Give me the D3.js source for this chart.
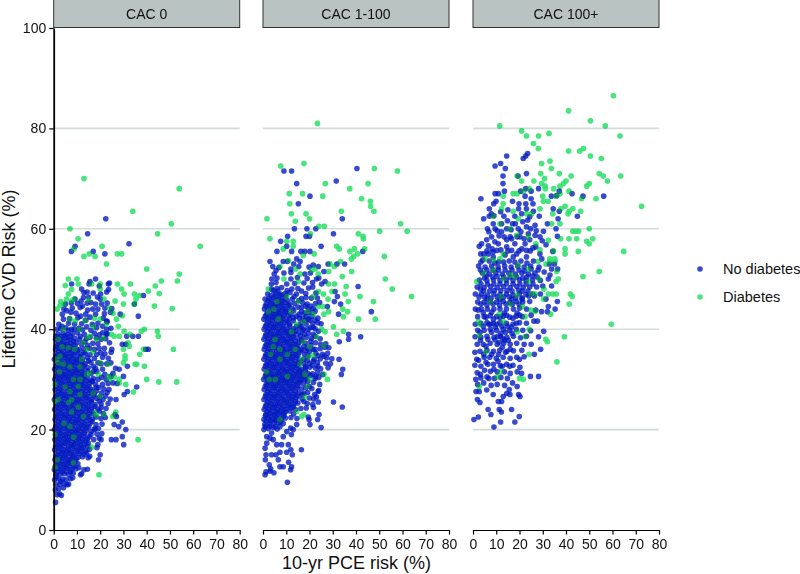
<!DOCTYPE html>
<html><head><meta charset="utf-8">
<script src="https://cdn.jsdelivr.net/npm/d3@7/dist/d3.min.js"></script>
<style>html,body{margin:0;padding:0;background:#fff}svg{display:block}text{font-family:"Liberation Sans",Arial,sans-serif;fill:#111}</style>
</head><body><svg id="c" width="800" height="574"></svg>
<script>
const panelNames=["CAC 0","CAC 1-100","CAC 100+"];
const seriesNames=["No diabetes","Diabetes"];
const xTicks=[0,10,20,30,40,50,60,70,80];
const yTicks=[0,20,40,60,80,100];
const gridValues=[20,40,60,80];

const cac0None=[[22.4,62],[14.6,59],[32.4,57],[9.2,56.5],[7.6,55.5],[17,55.5],[22,55],[15.6,49.5],[18,50],[38.6,46.7],[34.7,45],[36.4,42.6],[31.4,38.6],[34,38.6],[36.4,38.6],[40.7,36],[39.6,36],[29.5,37],[31,37],[31.7,32.6],[28.2,32],[30,30.6],[35.7,28.5],[31.7,27.6],[30.3,27],[26.8,26],[26.4,23],[27,22.6],[26,21],[28,20.6],[29.5,21.5],[31,20],[24.8,18],[26.8,18],[29.5,18.6],[30.1,17],
[0.8,5.5],[1.5,7],[2.5,7.2],[3.3,6.9],[0.7,8],[2.2,8.2],[4.2,8.4],[1,9],[2.6,9.1],[4.5,9.2],[5.8,9],[6.4,9.1],[0.4,10],[2,10.2],[3.8,10.1],[5.3,10],[7.2,10.2],[8.2,10.4],[0.9,11],[2.8,11.1],[4.6,11.2],[6.5,11],[8.4,11.3],[11.5,11],[12,11.2],[0.3,12],[1.9,12.2],[3.6,12.1],[5.6,12.3],[7.5,12],[9.5,12.2],[13,12],[14.5,12.1],[1.1,13],[3,13.2],[4.8,13.1],[6.8,13.3],[8.6,13],[10.4,13.2],[0.5,14],[2.3,14.1],[4,14.3],[6,14],[7.8,14.2],[9.7,14.1],[14.8,14.4],[15.5,14.7],[19.3,14],[20,15],[1.4,15],[3.3,15.2],[5.2,15.1],[7.1,15.3],[9,15],[11,15.2],[13.2,15.1],[14.2,15.4],[0.4,16],[2.2,16.2],[4.1,16],[6.1,16.1],[8.2,16.3],[10.2,16],[12.1,16.2],[15.4,16.1],[18.6,16.4],[1.3,17],[3.2,17.1],[5.1,17.3],[7.3,17],[9.1,17.2],[11.2,17],[13.3,17.1],[14.9,17.3],[19,17],[0.5,18],[2.4,18.1],[4.4,18.2],[6.4,18],[8.3,18.3],[10.5,18.1],[12.4,18],[14.5,18.2],[17.2,18],[19.6,18.3],[20.4,18],[1.2,19],[3.1,19.2],[5.3,19],[7.2,19.1],[9.3,19.3],[11.3,19],[13.2,19.2],[16,19],[18.6,19.1],[20.7,19.2],[0.3,20],[2.2,20.1],[4.2,20.3],[6.2,20],[8.2,20.2],[10.3,20],[12.4,20.1],[14.2,20.3],[17.4,20],[19.2,20.2],[1.4,21],[3.4,21.2],[5.3,21],[7.4,21.1],[9.4,21.3],[11.4,21],[13.4,21.1],[15.6,21.2],[18.2,21],[20.8,21.1],[0.6,22],[2.6,22.1],[4.6,22.3],[6.6,22],[8.6,22.2],[10.6,22],[12.6,22.1],[14.7,22.3],[16.6,22],[20.3,22.2],[1.2,23],[3.2,23.2],[5.2,23],[7.2,23.1],[9.2,23.3],[11.2,23],[13.2,23.1],[15.3,23.3],[17.2,23.1],[21.3,23.2],[0.4,24],[2.4,24.1],[4.4,24.3],[6.4,24],[8.4,24.2],[10.4,24.1],[12.4,24],[14.4,24.2],[16.4,24.3],[19,24.1],[22.5,24.2],[1.6,25],[3.6,25.2],[5.6,25],[7.6,25.1],[9.6,25.3],[11.6,25],[13.6,25.1],[15.6,25.3],[17.8,25],[20.4,25.1],[23.4,25.2],[0.3,26],[2.2,26.1],[4.2,26.3],[6.2,26],[8.2,26.2],[10.2,26],[12.2,26.1],[14.2,26.3],[16.4,26],[18.6,26.2],[21.2,26],[24.3,26.1],[1.3,27],[3.3,27.2],[5.3,27],[7.3,27.1],[9.3,27.3],[11.3,27],[13.3,27.1],[15.3,27.3],[17.5,27.1],[20.6,27.3],[23,27.4],[0.6,28],[2.6,28.1],[4.6,28.3],[6.6,28],[8.6,28.2],[10.6,28],[12.6,28.1],[14.6,28.3],[16.6,28],[19.4,28.4],[21.6,28.1],[1.5,29],[3.5,29.2],[5.5,29],[7.5,29.1],[9.5,29.3],[11.5,29],[13.5,29.1],[15.6,29.3],[18,29],[21,29],[23.4,29.2],[25.5,29.3],[27.3,29.2],[0.5,30],[2.5,30.1],[4.5,30.3],[6.5,30],[8.5,30.2],[10.5,30],[12.5,30.1],[14.5,30.3],[17,30.2],[20.6,30.4],[1.3,31],[3.3,31.2],[5.3,31],[7.3,31.1],[9.3,31.3],[11.3,31],[13.3,31.1],[16,31.2],[22,31],[25.5,31.2],[0.4,32],[2.4,32.1],[4.4,32.3],[6.4,32],[8.4,32.2],[10.4,32],[12.4,32.1],[14.8,32.3],[18,32.2],[21,32],[26.6,32.2],[1.6,33],[3.6,33.2],[5.6,33],[7.6,33.1],[9.6,33.3],[11.6,33],[13.6,33.1],[16,33.4],[19,33.3],[22.8,33.1],[24.6,33.3],[0.3,34],[2.2,34.1],[4.2,34.3],[6.2,34],[8.2,34.2],[10.2,34],[12.4,34.1],[14.6,34.3],[17.5,34.2],[21,34.4],[23.5,34.2],[1.4,35],[3.4,35.2],[5.4,35],[7.4,35.1],[9.4,35.3],[11.6,35],[13.6,35.1],[18.5,35],[20.2,35.3],[22,35.1],[24.7,35.4],[0.8,36],[2.8,36.1],[4.8,36.3],[6.8,36],[8.8,36.2],[11,36],[13,36.1],[15.4,36.2],[21.8,36.2],[25,36],[1.6,37],[3.6,37.2],[5.6,37],[7.6,37.1],[9.8,37.3],[12,37],[16.8,37.2],[19,37.1],[24,37.3],[0.8,38],[3,38.1],[5,38.3],[7,38],[9,38.2],[11.2,38],[14,38.1],[18.3,38.3],[20.4,38],[22.4,38.1],[1.8,39],[4,39.2],[6,39],[8,39.1],[10.2,39.3],[13.2,39],[17.5,39.2],[21,39.3],[23,39.1],[1.4,40],[3,40.1],[5.2,40.3],[7.6,40],[10.8,40.2],[18.4,40.3],[22.8,40],[24.6,40.2],[2.2,41],[6.4,41.2],[9,41],[12,41.1],[19,41.2],[23,41.5],[4.2,42],[6.8,42.1],[10.4,42.3],[21.4,42.2],[28.6,43],[3.7,43],[7.4,43.4],[9.6,43.2],[13.8,43],[21.8,43.1],[24.4,43.4],[4.4,44],[8,44.2],[11.4,44.3],[14.6,43.8],[19,44],[25,44.1],[5.1,45],[7.6,45.2],[10.2,45.1],[16,45.3],[18,45],[23,45.2],[9.2,46],[12.8,46.3],[14.4,47.4],[17,47.2],[13,47.3],[20.2,47],[22.8,47.4],[23.6,47.9],[7.7,49],[12,48],[15.2,49],[19.6,48.6],[23.5,49],[24,49.2],
[1.2,10.6],[3,9.7],[1.7,11.6],[3.7,11.6],[5.5,11.6],[7.3,11.6],[0.7,12.6],[2.7,12.7],[4.6,12.6],[6.4,12.7],[8.5,12.6],[10.8,12.4],[1.6,13.6],[3.5,13.7],[5.4,13.6],[7.2,13.7],[9.2,13.6],[0.9,14.6],[2.8,14.6],[4.7,14.7],[6.6,14.6],[8.4,14.7],[10.5,14.5],[12.4,14.6],[1.9,15.6],[3.8,15.6],[5.7,15.7],[7.6,15.6],[9.6,15.7],[11.6,15.6],[13.6,15.7],[0.8,16.6],[2.7,16.6],[4.6,16.7],[6.6,16.6],[8.6,16.7],[10.7,16.6],[12.7,16.5],[14.6,16.6],[1.8,17.6],[3.7,17.6],[5.7,17.7],[7.8,17.6],[9.7,17.7],[11.8,17.6],[13.9,17.7],[0.9,18.6],[2.9,18.6],[4.9,18.7],[6.9,18.6],[8.8,18.7],[11,18.6],[13,18.7],[15.2,18.6],[1.8,19.6],[3.8,19.6],[5.8,19.7],[7.8,19.6],[9.8,19.7],[11.9,19.6],[14,19.7],[16.2,19.6],[0.9,20.6],[2.9,20.6],[4.9,20.7],[6.9,20.6],[8.9,20.7],[10.9,20.6],[13,20.7],[15.1,20.6],[1.9,21.6],[3.9,21.6],[5.9,21.7],[7.9,21.6],[9.9,21.7],[12,21.6],[14.1,21.7],[16.4,21.6],[1,22.6],[3,22.6],[5,22.7],[7,22.6],[9,22.7],[11,22.6],[13,22.7],[15.2,22.6],[18.2,22.5],[1.9,23.6],[3.9,23.6],[5.9,23.7],[7.9,23.6],[9.9,23.7],[11.9,23.6],[14.2,23.7],[16.4,23.6],[19.6,23.7],[1,24.6],[3,24.6],[5,24.7],[7,24.6],[9,24.7],[11,24.6],[13,24.7],[15.1,24.6],[17.6,24.6],[2,25.6],[4,25.6],[6,25.7],[8,25.6],[10,25.7],[12,25.6],[14.1,25.7],[16.2,25.6],[19.6,25.7],[1,26.6],[3,26.6],[5,26.7],[7,26.6],[9,26.7],[11,26.6],[13,26.7],[15,26.6],[17.2,26.7],[19.8,26.5],[22.3,26.7],[2,27.6],[4,27.6],[6,27.7],[8,27.6],[10,27.7],[12,27.6],[14,27.7],[16.2,27.6],[18.4,27.7],[1,28.6],[3,28.6],[5,28.7],[7,28.6],[9,28.7],[11,28.6],[13,28.7],[15.2,28.6],[2,29.6],[4,29.6],[6,29.7],[8,29.6],[10,29.7],[12,29.6],[14.2,29.7],[16.6,29.6],[1,30.6],[3,30.6],[5,30.7],[7,30.6],[9,30.7],[11,30.6],[13.2,30.7],[2,31.6],[4,31.6],[6,31.7],[8,31.6],[10,31.7],[12,31.6],[14.4,31.7],[18.5,31.6],[1,32.6],[3,32.6],[5,32.7],[7,32.6],[9,32.7],[11,32.6],[13,32.7],[2,33.6],[4,33.6],[6,33.7],[8,33.6],[10,33.7],[12.2,33.6],[1,34.6],[3,34.6],[5,34.7],[7,34.6],[9,34.7],[11.2,34.6],[2,35.6],[4,35.6],[6,35.7],[8,35.6],[10.2,35.7],[13,35.4],[1,36.6],[3,36.6],[5,36.7],[7,36.6],[9.2,36.7],[2,37.6],[4,37.6],[6,37.7],[8.4,37.6],[13.4,37.5],[1,38.6],[3,38.6],[5,38.7],[7.2,38.6],[11.4,38.6],[3.6,40.6],[6.2,39.8],[8.8,40],
[15,33.7],[17,32.6],[15.6,34.9],[14.6,36.8],[17.5,36],[19.5,36.2],[15.6,38.4],[16,39.8],[19.6,38.9],[12.4,39.9],[14.2,40.5],[16.6,41],[13.8,41.8],[21,40.6],[11.6,42.6],[15.6,42.4],[18,43],[22.8,41.6],[12.4,44.6],[16.8,44],[20.6,45],[22,44.2],[5.6,43.7],[11.8,45.6],[14.4,45.2],[15,46.4],[18.8,46.4],[20,46],[22.6,39],[19,30],[22.6,30],[24.6,30.6],[17.2,31.6],[20.4,33.1],[16.4,29.7],[18.4,28.4],[23.8,28],[20.4,24.4],[17.8,20.2],[22.2,22.4]];

const cac0Diabetes=[[13,70],[54,68],[34,63.5],[50.6,61],[7,60],[44.7,59],[10.5,58],[63,56.5],[20.8,56.5],[8.7,56],[13,54.5],[15.3,55],[17.8,54.5],[27.4,55],[29.2,55],[22.7,53],[40,52],[54,51],[6.3,50],[10,50],[46.3,49.6],[53.2,49.6],[43.7,48.6],[40.7,47.6],[45.4,47.1],[43.3,44.6],[51,44.1],[33,49],[34.7,47],[36.8,46.7],[35.4,46],[34.7,45],[27.4,49],[29.2,48],[30.3,47],[30,45],[26.4,45.6],[29.5,42.7],[39,40],[37.7,39.6],[44.6,39.6],[45,38.6],[30.3,39.6],[32.8,39],[27.8,40.6],[26,38.6],[28.2,38.6],[32,37.3],[32.5,36.6],[38.6,36],[51.5,36],[37,35],[30,36],[30.7,34.7],[30.7,34],[30,33.3],[35,33],[35.7,33],[39,32.6],[40,30],[45.2,29.5],[52.9,29.5],[34.3,27.5],[28.2,29.3],[31,29],[28.2,30],[26.7,23.5],[25.4,22.6],[36.3,18],[19.5,11],
[6.3,47],[7.7,45.6],[2.7,44.7],[4.2,45],[7,42],[9.2,41.6],[4.2,40],[2,38],[6.3,36.3],[2.7,34.6],[2,33.3],[7,32.5],[11.3,32.5],[14.2,31],[8.5,30],[11.3,30],[0.6,29],[4.9,28.5],[10.6,28.6],[11.3,27],[7,27.6],[2,26],[7.7,26],[0.6,25.6],[6.3,25.4],[10.6,24.5],[7.7,23.5],[12.8,22.6],[4.4,21.2],[7,20.6],[0.6,19],[8.5,18.5],[16.3,16.5],[1.6,14],[8.5,13.4],[0.6,12.5],
[5,48.7],[7.7,47.9],[10.6,49],[16.3,49],[20,49],[20,48],[15,45.8],[21.6,46],[24,44.2],[17.5,42.2],[20,42],[25.5,43.2],[27,42],[15.6,38.6],[18.5,38],[12.8,37.3],[21.4,38.2],[14.2,36],[20,33.3],[15.6,31.3],[19.2,31],[24,30],[23.5,30.6],[17,27.3],[20,26.6],[17.8,23.3],[18.5,22.8],[21.7,23],[3,45.5],[1.5,44],[5.5,46],[8.8,46],[12,34],[9,36],[2.5,31.5],[4.2,33],[1.2,34],[3.6,36.5],[14.5,38.4],[16.8,35.5],[11,40],[13.5,41.7],[17,40.5],[22.5,41],[24.8,39],[23.5,33],[26,30.5]];

const cac1None=[[9,71.5],[12.3,71.5],[40.4,72],[14.5,69],[31.5,69.5],[20.2,66.5],[15.2,65],[34.1,62],[13.5,60],[18.9,60],[22.7,60],[30.3,59],[10.6,58.5],[18.5,58.5],[20,58.5],[7.6,57.5],[10.2,56.5],[25,56.5],[6,55.5],[12.3,55.5],[16.3,55.5],[18,55.5],[20.2,55.5],[42.9,55.5],[3,53.5],[8.7,53.5],[14.5,54],[16,53.5],[4.2,52.5],[5.6,51.7],[28,53],[31.8,53],[35.1,53],[23.8,52.5],[26.2,51.5],[40.9,48.5],[31,47.5],[32,46.5],[30.7,45.5],[33.4,45],[32.5,43],[46.6,43.5],[27.7,44.5],[26.7,49.5],[25.2,49],[23,50],
[42,38.5],[36.8,39],[36.8,38],[32.8,37.5],[32.7,34],[34.3,32],[33.7,31],[30.3,25.5],[34.1,24.5],[25,20.4],[24.1,23],[23.5,22],[20.2,21],[23.7,27.6],[23,26.5],[23.8,25.5],[21.4,25],[21.7,24.4],[19.5,22.5],[19.8,22],[16.5,16],[12.6,15],[12,16],[10.9,17],[12.2,19],[14.5,21],[13,20],[10.5,9.5],[0.9,11],[1.3,11.6],[3,11.7],[4.7,11.4],[2.7,13],[3.3,12.2],[7.3,12.6],[8.7,12.6],[11.9,12],[12.3,12.6],[11,13.5],[1,14],[1.3,15],[6.6,14],[5.6,15],[10.2,15.5],[7.3,15.5],[3.7,15],[3,18.3],[0.9,16.3],[4.4,18],[1.6,17.3],[5.9,17],[8,17],[8.7,18.6],[10.2,19.6],[3.7,19.3],[1.6,18.6],[7.3,20.6],[8.7,21.2],[11.9,20.3],
[0.4,20],[2.3,20.2],[4.4,20.4],[6.1,20.1],[0.8,21],[2.9,21.2],[4.8,21.4],[6.6,21.3],[0.4,22],[2.2,22.2],[4.1,22.1],[6,22.3],[8,22.1],[9.6,22.3],[12,22.4],[14.6,22.2],[1.2,23],[3.1,23.2],[5.1,23.1],[7,23.3],[9,23.2],[13.2,23.1],[0.5,24],[2.4,24.1],[4.3,24.3],[6.2,24],[8.2,24.2],[10,24.1],[12.1,24.3],[14,24],[16.3,24.2],[18.6,24.3],[1.4,25],[3.4,25.2],[5.3,25],[7.3,25.1],[9.3,25.3],[11.3,25],[13.4,25.1],[15,25.3],[19,25.2],[0.4,26],[2.3,26.1],[4.3,26.3],[6.3,26],[8.3,26.2],[10.3,26],[12.3,26.1],[14.3,26.3],[16.8,26.1],[20,26.3],[21.8,26.1],[1.3,27],[3.2,27.2],[5.2,27],[7.2,27.1],[9.2,27.3],[11.2,27],[13.2,27.1],[15.3,27.3],[17.5,27.2],[19.2,27.4],[0.5,28],[2.5,28.1],[4.5,28.3],[6.5,28],[8.5,28.2],[10.5,28],[12.5,28.1],[14.5,28.3],[16.5,28.1],[18.4,28.3],[21,28.2],[1.4,29],[3.4,29.2],[5.4,29],[7.4,29.1],[9.4,29.3],[11.4,29],[13.4,29.1],[15.4,29.3],[17.4,29.1],[21.7,29.4],[24.4,29],[0.3,30],[2.3,30.1],[4.3,30.3],[6.3,30],[8.3,30.2],[10.3,30],[12.3,30.1],[14.4,30.3],[16.4,30],[18.6,30.3],[22.4,30.2],[24,30.4],[1.3,31],[3.3,31.2],[5.3,31],[7.3,31.1],[9.3,31.3],[11.3,31],[13.3,31.1],[15.3,31.3],[17.3,31],[19.2,31.2],[21.3,31.1],[23.5,31.3],[25.7,31],[0.5,32],[2.5,32.1],[4.5,32.3],[6.5,32],[8.5,32.2],[10.5,32],[12.5,32.1],[14.5,32.3],[16.5,32],[20.2,32.4],[22.7,32.2],[24.8,32.1],[28,32.3],[1.4,33],[3.4,33.2],[5.4,33],[7.4,33.1],[9.4,33.3],[11.4,33],[13.4,33.1],[15.4,33.3],[17.6,33.1],[20,33.2],[23.4,33.3],[27,33.2],[29,33.1],[0.4,34],[2.4,34.1],[4.4,34.3],[6.4,34],[8.4,34.2],[10.4,34],[12.4,34.1],[14.4,34.3],[17.6,34],[24.6,34.1],[27.4,34.3],[29.6,34.1],[1.3,35],[3.3,35.2],[5.3,35],[7.3,35.1],[9.3,35.3],[11.3,35],[13.3,35.1],[15.3,35.3],[17.8,35],[22.8,35.2],[25.6,35],[27.8,35.2],[0.5,36],[2.5,36.1],[4.5,36.3],[6.5,36],[8.5,36.2],[10.5,36],[12.5,36.1],[14.5,36.3],[16.5,36],[19,36.2],[21.5,36],[24.6,36.1],[28.3,36.3],[1.4,37],[3.4,37.2],[5.4,37],[7.4,37.1],[9.4,37.3],[11.4,37],[13.4,37.1],[15.4,37.3],[18.4,37.2],[22.6,37.3],[24.8,37],[27,37.1],[0.4,38],[2.4,38.1],[4.4,38.3],[6.4,38],[8.4,38.2],[10.4,38],[12.4,38.1],[14.6,38.3],[16.6,38],[20.8,38.2],[24.6,38.1],[1.3,39],[3.3,39.2],[5.3,39],[7.3,39.1],[9.3,39.3],[11.3,39],[13.3,39.1],[15.4,39.3],[17.8,39],[19.5,39.2],[21.6,39],[0.5,40],[2.5,40.1],[4.5,40.3],[6.5,40],[8.5,40.2],[10.5,40],[13,40.1],[15.6,40.3],[17.5,40],[20.4,40.3],[22.4,40.1],[1.5,41],[3.5,41.2],[5.5,41],[7.5,41.1],[9.5,41.3],[11.5,41],[16.2,41.2],[18.6,41],[21.4,41.1],[23.6,41.3],[25,41.1],[0.4,42],[2.4,42.1],[4.4,42.3],[6.6,42],[8.6,42.2],[11.2,42],[13,42.3],[17,42.2],[19.5,42],[23.6,42.2],[1.6,43],[3.6,43.2],[5.6,43],[7.6,43.1],[9.6,43.3],[12,43],[15.6,43],[18,43.2],[0.6,44],[2.4,44.1],[4.6,44.3],[6.6,44],[8.6,44.2],[10.6,44],[12.6,44.1],[16.6,44.3],[19.5,44],[21.6,44.1],[1.4,45],[3.4,45.2],[5.4,45],[7.4,45.1],[9.4,45.3],[11.4,45],[13.6,45.1],[17,45.3],[19,45],[22.6,45.1],[24.4,45.3],[0.9,46],[2.6,46.1],[4.6,46.3],[6.6,46],[8.6,46.2],[12.6,46],[16.6,46.1],[18.5,46.3],[23.4,46.2],[2,47],[5.4,47.2],[7.6,47],[9.6,47.1],[11.6,47.3],[14.4,47],[18.4,47.1],[22.8,47.2],[3.7,48],[6,48.1],[8,48.3],[12.4,48],[15,48.1],[19.6,48.2],[21.4,48.4],[3.6,49],[5.6,49.3],[10.2,49],[13.6,49.1],[17.6,49.2],[21.3,49.3],[3.8,50],[6,50.2],[12,50],[14.8,50.3],[19,50.1],[24,50.2],[4.8,51],[9,51.2],[12,51.3],[18,51],[20.4,51.2],[6.8,52.3],[12,52],[15.4,52.5],[19.8,52.4],[21.6,52.8],[10.5,53.5],[13.2,53],
[1,20.6],[3,20.7],[5.2,20.6],[1.4,21.7],[3.4,21.8],[5.4,21.8],[7.6,21.6],[1,22.7],[3,22.7],[5,22.8],[7,22.7],[9,22.8],[1.8,23.6],[3.8,23.7],[5.8,23.6],[7.8,23.7],[9.8,23.6],[11.6,23.7],[1,24.6],[3,24.7],[5,24.6],[7,24.7],[9,24.6],[11,24.7],[13,24.6],[2,25.6],[4,25.7],[6,25.6],[8,25.7],[10,25.6],[12,25.7],[14,25.6],[1,26.6],[3,26.7],[5,26.6],[7,26.7],[9,26.6],[11,26.7],[13,26.6],[15,26.7],[2,27.6],[4,27.7],[6,27.6],[8,27.7],[10,27.6],[12,27.7],[14,27.6],[1,28.6],[3,28.7],[5,28.6],[7,28.7],[9,28.6],[11,28.7],[13,28.6],[15,28.7],[2,29.6],[4,29.7],[6,29.6],[8,29.7],[10,29.6],[12,29.7],[14,29.6],[16,29.7],[19.2,29.6],[1,30.6],[3,30.7],[5,30.6],[7,30.7],[9,30.6],[11,30.7],[13,30.6],[15,30.7],[2,31.6],[4,31.7],[6,31.6],[8,31.7],[10,31.6],[12,31.7],[14,31.6],[16,31.7],[18.2,31.6],[1,32.6],[3,32.7],[5,32.6],[7,32.7],[9,32.6],[11,32.7],[13,32.6],[15,32.7],[18.4,32.6],[2,33.6],[4,33.7],[6,33.6],[8,33.7],[10,33.6],[12,33.7],[14,33.6],[16.2,33.7],[21.6,33.6],[1,34.6],[3,34.7],[5,34.6],[7,34.7],[9,34.6],[11,34.7],[13,34.6],[15,34.7],[19.4,34.7],[2,35.6],[4,35.7],[6,35.6],[8,35.7],[10,35.6],[12,35.7],[14,35.6],[16.4,35.7],[20,35.6],[1,36.6],[3,36.7],[5,36.6],[7,36.7],[9,36.6],[11,36.7],[13,36.6],[15,36.7],[17.6,36.6],[2,37.6],[4,37.7],[6,37.6],[8,37.7],[10,37.6],[12,37.7],[14,37.6],[16.6,37.7],[1,38.6],[3,38.7],[5,38.6],[7,38.7],[9,38.6],[11,38.7],[13,38.6],[2,39.6],[4,39.7],[6,39.6],[8,39.7],[10,39.6],[12,39.7],[14,39.6],[1,40.6],[3,40.7],[5,40.6],[7,40.7],[9,40.6],[11.4,40.7],[14.4,40.6],[2,41.6],[4,41.7],[6,41.6],[8,41.7],[10.4,41.6],[13,41.7],[1,42.6],[3,42.7],[5,42.6],[7,42.7],[9,42.6],[11,42.7],[14.4,42.6],[2,43.6],[4,43.7],[6,43.6],[8,43.7],[10,43.6],[13.2,43.7],[1,44.6],[3,44.7],[5,44.6],[7,44.7],[9,44.6],[11,44.7],[15,44.4],[2.2,45.7],[4.2,45.6],[6.2,45.7],[8.2,45.6],[10.4,45.7],[3.4,46.7],[5.4,46.6],[7.4,46.7],[9.8,46.6],[13.4,46.5],[4.4,47.7],[6.4,47.6],[10.4,47.7],[16.6,47.6],
[16.2,38.8],[18.6,38.4],[20.6,37.6],[22.4,38.6],[17.2,39.8],[19.4,40],[21.6,40.4],[23.8,39.6],[16.4,40.6],[18,41.7],[20.2,41.8],[22.4,41.8],[15.6,42.2],[18.6,42.6],[21,42.6],[16.6,43.5],[20,43.4],[22.4,43.6],[18.4,44.6],[20.6,44.6],[15.4,45.7],[20.8,46.2],[16.8,30.7],[20.4,30.8],[22.6,30.6],[18.4,32.3],[21.2,32.8],[23.6,32.6],[19,33.8],[22,34],[23.6,34.7],[26.2,34.6],[18.6,35.7],[22.4,36],[26.6,36.4],[20.6,36.8],[24,27.8],[22.2,27],[20,28.6],[18.2,30],[16.8,27],[17.6,25.6]];

const cac1Diabetes=[[23.4,81],[7.6,72.5],[17.6,73],[47.9,72],[57.8,71.5],[26.8,69],[37.3,68],[45.2,69],[11.3,67],[17,67],[25.7,66.5],[42.4,66],[46.2,65.5],[46.3,64.5],[11.5,65],[47.7,63.5],[33.7,63.5],[12.2,63],[18.5,63],[20,62],[1.7,62],[13.9,61.5],[59.2,61],[24,60.5],[26.4,60.5],[50.2,59.5],[62,59.5],[20.4,59],[41,59],[43,58.5],[43.2,58],[3,58],[31.7,56.5],[32.8,56],[39.3,56],[43.7,56],[37.4,55.5],[40.7,55],[39,54.5],[38,54],[52.2,54.5],[33.3,53.5],[28.8,53],[30.7,52.5],[38.1,51.5],[34.1,50.5],[28.2,51.5],[52.6,50],[30.8,49],[28.2,49],[35.8,48.5],[55.6,48],[29.7,47.5],[35.3,47],[41.7,46.5],[63.9,46.5],[47.5,45.5],[36.7,45.5],[28,46],[26,47],[23.8,47.5],[21.6,46.5],[25.7,44.5],[23.8,44.5],[36.4,43.5],[34.3,44],[34.6,42.5],[41.1,42],[48.3,42],[28.2,43.5],[26.2,43],[22.4,52],[21,51.8],[23.8,51],[22,55],[17.3,54.7],[10.9,53.7],[7.3,52.5],[8.7,56],[13,56.5],[10.2,57.5],[13,57.5],[14,52],[15.2,49.5],[10.2,46.5],[15.2,45.5],[2.3,43.5],[4.7,44],[6.6,42],[14.5,41],[21.6,43],[30.3,40.5],
[12.2,39.5],[25.2,40],[31.7,39],[34.6,39.6],[26.7,39.5],[23,38.5],[17.3,37.5],[5.1,38],[4.4,36.5],[3.3,35],[7.3,36],[10.5,35],[13.8,36],[20,36.5],[26.2,36.7],[19.5,34.5],[21.6,34.8],[16.6,34],[15.9,33],[7.3,34],[1.6,31.5],[2.7,30],[5.3,30],[10.5,30.6],[18,31],[26.2,31],[20,30],[27.7,30],[19,28.6],[18,26.5],[14.5,23.6],[17.6,23],[7.3,22],[16.6,22.6],[2.3,48],[6,45.5],[12,43.5],[17.5,41.5],[19,43.5],[9,50],[16,51]];

const cac100None=[[14.5,74.5],[23.5,75],[22.7,74.5],[21.6,74],[11.9,73],[9.5,72.5],[13.9,72],[23,71],[19.4,70.5],[12.9,70.5],[12.9,69],[28.2,68],[22.7,68],[13.5,67.5],[20.5,67.5],[25,67.5],[9.5,67],[10.9,67],[42.6,67],[37.1,67.5],[33.7,66.5],[36,66.6],[47.3,66.5],[56.2,66.5],[3.4,66],[22.4,66.5],[25,66],[9.9,65.5],[8.9,65],[17,65.5],[22.7,65],[25.8,65],[19.8,65],[19.6,64],[23,64],[26,63.5],[34.5,64],[37.1,63.5],[44.9,62.5],[36.6,62],[28.5,62.5],[11.9,63.4],[13.3,62.5],[7.9,63],[7,62.5],[4.6,62],[18,62.5],[20.9,63],[23.5,61.7],[6.2,60],[8.7,61],[12.3,61],[9.5,60],[14.5,60],[19.5,60],[23,60.4],[26.7,60.7],[32,61],[35.7,60],[30.3,59.5],[36.3,58.5],[28.8,58.4],[23.8,59],[20.2,58.4],[16,58.4],[12.3,59.4],[8,58.4],[5.9,57.8],[3.7,57],[2.7,56.5],[6.6,56.6],[10.9,57],[14.5,57.8],[18,57],[22.4,57],[26.7,58.7],[31.4,56.8],[28.8,55],[23,55.7],[18.8,55],[14.5,56.4],[10.2,55.7],[6.6,55],[3.3,55],[4.7,55],[8.7,54.4],[13.8,54.8],[17.3,54.4],[23,54.4],
[36.3,45.5],[35.3,44],[36.4,52],[34.3,55.5],[35,53],[33.1,50.8],[32.4,50],[33.8,48.6],[31.4,46],[32.4,44.5],[32,43.5],[29.5,43.5],[27.7,41.6],[26.2,41.6],[30.4,39.6],[28.2,38.5],[25,37],[29.1,36],[26.4,35],[22,34.5],[20,34],[28.2,30.6],[24.7,30.6],[20.2,32.4],[20.9,31.2],[19,28.6],[19.6,27],[20.2,26.6],[14.5,27.2],[15.6,28],[15.9,27],[16.6,24],[19.9,22.6],[18,21.5],[11.9,21.5],[9,20.5],[0.4,22],[11.3,24],[12.2,23.5],[7.7,23],[6.5,24],[2.3,22.5],[3,25.4],[1.9,26],[10.9,25.6],[12.3,25.6],[13,26.6],[8.7,27],[1.3,27.6],[2.7,27.6],[5.9,27.9],
[2,29],[4.6,29.3],[7.8,28.8],[10.4,29],[13.6,28.8],[17,29.3],[1.2,30],[3.4,30.3],[6,30.5],[9.2,30.2],[12,30.4],[14.8,30.2],[1.8,31.3],[5,31.8],[7.5,31.6],[10.4,31.5],[13.5,31.5],[16,31.2],[19,31.5],[0.8,32.8],[3.4,32.6],[6.4,33],[8.8,33],[11.8,32.7],[14.5,33],[17.2,32.8],[1.6,34],[4.8,34.4],[7.2,34.4],[10,34.2],[13,34.4],[16,34.2],[18.8,34.4],[0.8,35.4],[3,35.6],[6,35.8],[8.8,35.6],[11.5,35.8],[14.6,35.6],[17.4,35.7],[21,35.8],[1.8,37],[4.4,37],[7.4,37.2],[10.4,37],[13.2,37.2],[16,37],[18.8,37.2],[22,37],[0.9,38.5],[3.4,38.4],[6,38.6],[9,38.4],[11.8,38.6],[14.6,38.4],[17.4,38.6],[20.4,38.3],[23,38.6],[2,39.8],[4.8,39.8],[7.4,40],[10.2,39.8],[13,40],[15.8,39.8],[18.6,40],[21.4,39.8],[24.8,39.7],[1,41],[3.4,41.2],[6,41.3],[8.8,41.2],[11.6,41.3],[14.4,41.2],[17.2,41],[20,41.3],[23,41.2],[2,42.5],[4.8,42.5],[7.4,42.7],[10.2,42.5],[13,42.6],[15.8,42.4],[18.6,42.6],[21.2,42.5],[25,42.8],[1,44],[3.6,44],[6.2,44],[9,44],[11.6,44],[14.4,44],[17.4,44],[20,44.2],[23,44],[27,43.8],[2,45.4],[4.8,45.4],[7.4,45.5],[10.2,45.4],[13,45.5],[15.8,45.3],[18.6,45.5],[21.4,45.4],[24.4,45.5],[1,47],[3.6,47],[6.2,46.8],[9,47],[11.6,46.9],[14.4,47],[17.2,46.8],[20,47],[22.8,46.9],[25.6,47],[29,47],[1.8,48.4],[4.8,48.3],[7.6,48.5],[10.4,48.3],[13.2,48.5],[16,48.3],[18.8,48.5],[21.6,48.3],[24.4,48.4],[27.4,48.4],[30,48.6],[2.8,49.8],[6,49.7],[8.8,49.8],[11.6,49.7],[14.4,49.8],[17.2,49.7],[20,49.8],[22.8,49.7],[25.6,49.8],[29,49.7],[4,51.2],[7,51],[9.8,51.2],[12.6,51],[15.4,51.2],[18.2,51],[21,51.2],[23.8,51],[26.6,51.2],[30.6,51.4],[33.8,52],[2.4,52.6],[5.2,52.4],[8,52.6],[10.8,52.4],[13.6,52.6],[16.4,52.4],[19.2,52.6],[22,52.4],[24.8,52.6],[28.4,52.4],[32.8,53],
[3.2,31],[6.8,30.2],[10.8,33.6],[2.4,33.8],[8,35],[12.6,36.4],[5.6,36.6],[15.2,37.8],[9.4,37.9],[3,39.4],[12,39.2],[6.8,41],[16.4,40.4],[10.2,41],[4.4,43.3],[13.4,43.2],[8,43.4],[19,43.2],[2.2,43.8],[6,46],[11.6,45.9],[16.6,46],[21,46],[24,46.6],[3.2,48],[9.2,47.7],[14.6,47.7],[19.6,47.8],[26.4,46.6],[5,50.2],[10.4,50.5],[16,50.4],[21.4,50.2],[27.6,50.4],[3.2,51.8],[8.6,51.8],[13.8,51.8],[19.8,51.8],[25,52],[11,53.4],[15.6,53.6],[20.6,53.6],[26,53.6],[7,53.6],[4.2,53.8],[29.6,54],[12,55.8],[16.6,55.7],[21,56],[25.8,56.2],[8.2,56],[9.4,57.4],[13.4,58.4],[16.4,59.8],[20.6,59.4],[11.2,58.6],[6.8,59.4],[7,64],[15,63.8],[18.2,61],[24.4,62.4],[27,56.4],[3.2,37.8],[14,35.4],[11.2,37.4],
[6.4,38],[8,39.4],[10.6,38.6],[12.8,38.2],[14,39.4],[16.8,39.2],[4.4,40.6],[7.6,41],[9.6,40.4],[12.4,40.6],[14.8,40.6],[18.6,41.2],[5.6,42.4],[8.8,42],[11.6,42.4],[14.4,42.8],[17.2,42.2],[20,42.8],[3.4,45],[6,44.8],[8.6,45],[11.4,44.8],[14.2,45],[17,45],[19.8,45],[2.6,46.4],[5,46.4],[7.8,46.2],[10.4,46.4],[13.2,46.4],[15.6,46.4],[18.4,46.2],[21.2,46.2],[4.6,47.6],[7.2,47.6],[12,47.7],[16.8,47.6],[21.2,47.6],[23.6,47.6],[3.4,49],[6.2,49],[9,49],[11.6,49],[14.4,49.1],[17.2,49],[20.2,49],[22.8,49],[25.8,49],[5.8,50.6],[8.4,50.4],[13.2,50.4],[18.8,50.4],[23.2,50.4],[25.6,50.6],[6,51.8],[11,51.8],[16.8,51.8],[22.2,51.6],[28,51.8],[3.4,53.4],[9.4,53.2],[13.2,53.4],[18,53.4],[23.2,53.2],[6,55.6],[8.6,55.4],[15,55.6],[19.8,55.6],[24.6,55.6],[16.6,58],[19,58.4],[22,58],[24.4,57.8],[17,61],[21.4,61.4],[14.8,61.6],[10.4,59.6],[9,62.6],[24.8,60],[27.2,59.6],[29.8,57.6],[5.6,33.4],[12.6,32.6],[15.8,32.6],[9,32],[4.6,35],[11,35],[16,36],[13.6,37.8]];

const cac100Diabetes=[[60.4,86.5],[41.1,83.5],[50.5,81.5],[56.9,80.5],[11.5,80.5],[20.9,79.5],[32.7,79],[23,78.5],[28.2,78.5],[63.2,78.5],[26,77],[28.1,76],[41.1,75.5],[45.9,75.5],[47.5,76],[50.5,74.5],[55.2,74],[33.1,73.5],[29.5,73],[33.7,72],[29.1,71],[37.1,71],[54.3,71],[56,70.5],[42.2,70.5],[63.5,70.5],[19,70.5],[20.9,69.5],[30.8,70],[26.2,69.5],[57.8,69.5],[40,69.5],[38.9,69],[29.5,69],[37.4,68.5],[31,68.5],[50,69],[48.9,68.5],[34.7,68],[31.1,68],[24.2,68],[41.3,67.5],[21.6,67.5],[17.3,67],[19,67],[13,66.5],[37.4,67],[30,66.5],[35.7,66.5],[46.7,66],[52.9,66],[30.3,65.5],[32.3,65.5],[13,65],[72.5,64.5],[39.6,64.5],[28.8,64],[37.8,64],[42.9,64],[41.3,63.5],[46.3,63.5],[34.3,63],[40.9,63],[12.3,64],[17.3,63.5],[8.7,62.5],[33.8,61],[37.4,61],[50,60],[42.9,59.5],[44.2,59.5],[45.4,59.5],[41.3,58],[44.6,58],[51.5,58],[48.9,57.5],[50,57],[37.7,58],[32.4,57.7],[39.6,56],[39.6,55],[45.3,55.5],[64.8,55.5],[34.6,55.6],[28.8,55.8],[27,57],[18.8,58.7],[23.8,58.4],[15.9,60],[11.6,61],[25.2,63],[23,63],[19.5,62],[5.2,54],[13,55],[33,54],[35.2,54],
[59.5,41],[54.3,51.5],[47.3,50.5],[41.9,47],[42.7,46.5],[41.4,45],[36.1,33.5],[39.3,38.5],[31.3,38],[32,37.5],[24.1,35],[33.4,43],[32.4,47],[34.3,47],[35.8,47],[31.4,53],[33.1,53.5],[35.3,53.5],[36,51.5],[36.7,50],[35.7,49.5],[28.5,50],[30.5,48],[22.4,42.5],[30.3,46],[26.7,43.6],[24.8,43.8],[1.6,49.5],[2.3,41.5],[3,41],[11.3,43],[13,41.5],[19,39.5],[24.2,40],[22.4,38.5],[2.7,38.7],[5.6,35.5],[11.9,31.5],[10.5,30.5],[20,30.2],[21.6,30],[2.7,28.6],[7.3,45.5],[11.9,46.5],[15.9,45],[18.8,46.8],[21.2,44.5],[25.2,47],[26.7,47],[23.8,49.5],[13,50],[16,50.8],[18,50.5],[8.7,51.8],[4.4,51.2],[8.7,53.8],[11.6,54],[19.5,52.8],[23.8,52],[28,53.5]];

const panelData=[[cac0None,cac0Diabetes],[cac1None,cac1Diabetes],[cac100None,cac100Diabetes]];
const panelLeft=[53.7,263,473], panelW=186;
const blueFill="#0018c0", blueAlpha=0.78;
const greenShade="#6eeb96", greenFill="#14dc5a", greenAlpha=0.42;

const svg=d3.select("#c");
const y=d3.scaleLinear().domain([0,100]).range([530,28]);
function dots(g,pts,x,fill,alpha,blend){
  g.append("g").style("mix-blend-mode",blend||"normal").selectAll("circle").data(pts).join("circle")
   .attr("cx",d=>x(d[0])).attr("cy",d=>y(d[1])).attr("r",2.8)
   .attr("fill",fill).attr("fill-opacity",alpha);
}
panelData.forEach((series,i)=>{
  const x=d3.scaleLinear().domain([0,80]).range([panelLeft[i],panelLeft[i]+panelW]);
  const g=svg.append("g").style("isolation","isolate");
  g.append("rect").attr("x",x(0)).attr("y",-1).attr("width",panelW).attr("height",28.5)
   .attr("fill","#b9c3c1").attr("stroke","#333").attr("stroke-width",1);
  g.append("text").attr("x",x(40)).attr("y",19).attr("text-anchor","middle").attr("font-size",14).text(panelNames[i]);
  g.selectAll("line.grid").data(gridValues).join("line").attr("class","grid")
   .attr("x1",x(0)).attr("x2",x(80)).attr("y1",d=>y(d)).attr("y2",d=>y(d))
   .attr("stroke","#d3dcd9").attr("stroke-width",1.6);
  dots(g,series[0],x,blueFill,blueAlpha);
  dots(g,series[1],x,greenShade,1,"multiply");
  dots(g,series[1],x,greenFill,greenAlpha);
  const ax=g.append("g").attr("transform","translate(0,530)")
    .call(d3.axisBottom(x).tickValues(xTicks).tickSize(4.5).tickPadding(5).tickSizeOuter(0));
  ax.selectAll("text").attr("font-size",14).style("font-family",'"Liberation Sans"').attr("fill","#111");
  ax.selectAll("line,path").attr("stroke","#000").attr("stroke-width",1.2);
  if(i===0){
    const ay=g.append("g").attr("transform",`translate(${x(0)},0)`)
      .call(d3.axisLeft(y).tickValues(yTicks).tickSize(4.5).tickPadding(3).tickSizeOuter(0));
    ay.selectAll("text").attr("font-size",14).style("font-family",'"Liberation Sans"').attr("fill","#111");
    ay.selectAll("line").attr("stroke","#000").attr("stroke-width",1.2);
    ay.select("path").attr("stroke","#000").attr("stroke-width",1.8);
  }
});
svg.append("text").attr("x",356.5).attr("y",569).attr("text-anchor","middle").attr("font-size",18).text("10-yr PCE risk (%)");
svg.append("text").attr("transform","translate(15,279) rotate(-90)").attr("text-anchor","middle").attr("font-size",18).text("Lifetime CVD Risk (%)");
const legendY=[269,297];
seriesNames.forEach((n,i)=>{
  svg.append("circle").attr("cx",700).attr("cy",legendY[i]).attr("r",2.8)
    .attr("fill",i?"#4ae57e":blueFill).attr("fill-opacity",i?1:blueAlpha);
  svg.append("text").attr("x",723).attr("y",legendY[i]+5).attr("font-size",14.5).text(n);
});
</script></body></html>
